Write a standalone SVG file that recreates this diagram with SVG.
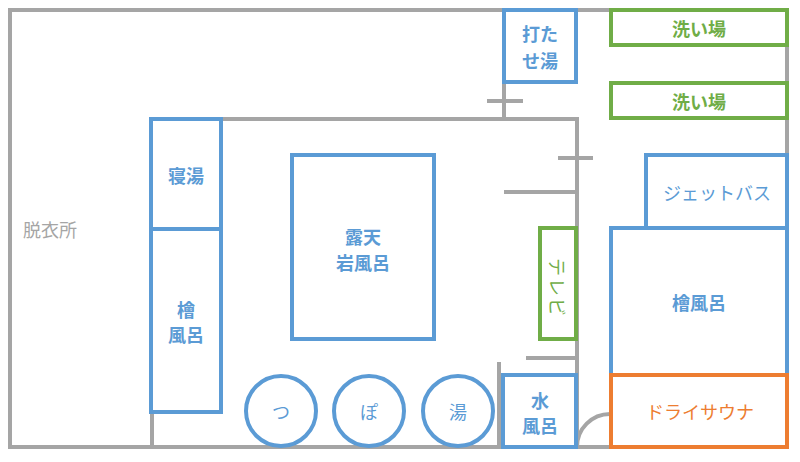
<svg xmlns="http://www.w3.org/2000/svg" width="800" height="462" viewBox="0 0 800 462">
<style>
.wall{fill:none;stroke:#a5a5a5;stroke-width:4}
.b{fill:#fff;stroke:#5b9bd5;stroke-width:4}
.g{fill:#fff;stroke:#70ad47;stroke-width:4}
.o{fill:#fff;stroke:#ed7d31;stroke-width:4}
text{font-family:"Noto Sans CJK JP","Noto Sans",sans-serif;font-size:18px;text-anchor:middle;dominant-baseline:central;font-weight:bold}
.tb{fill:#5b9bd5}
.tg{fill:#70ad47}
.to{fill:#ed7d31}
.tx{fill:#a5a5a5;font-weight:normal}
.n{font-weight:normal}
</style>
<rect width="800" height="462" fill="#fff"/>
<g id="walls">
<path class="wall" d="M612 10 H10 V447 H612 M787 10 V447 M152 412 V447 M152 119 H577 V447 M504 82 V119 M487 101 H523 M558 158 H593 M504 192 H577 M526 358 H577 M499 362 V447 M577 447 A33 33 0 0 1 610 414"/>
</g>
<g id="datsuijo"><text class="tx" x="50" y="229">脱衣所</text></g>
<g id="utaseyu"><rect class="b" x="504" y="10" width="72" height="72"/><text class="tb" x="540" y="33">打た</text><text class="tb" x="540" y="60">せ湯</text></g>
<g id="araiba1"><rect class="g" x="611" y="10" width="176" height="35"/><text class="tg" x="699" y="28">洗い場</text></g>
<g id="araiba2"><rect class="g" x="611" y="83" width="176" height="35"/><text class="tg" x="699" y="101">洗い場</text></g>
<g id="jetbath"><rect class="b" x="646" y="155" width="141" height="73"/><text class="tb n" x="717" y="192">ジェットバス</text></g>
<g id="hinoki-right"><rect class="b" x="611" y="228" width="176" height="147"/><text class="tb" x="699" y="302">檜風呂</text></g>
<g id="drysauna"><rect class="o" x="611" y="375" width="176" height="72"/><text class="to n" x="700" y="411">ドライサウナ</text></g>
<g id="tv"><rect class="g" x="540" y="228" width="36" height="111"/><text class="tg n" transform="translate(558 288) rotate(90)" x="0" y="0" letter-spacing="2">テレビ</text></g>
<g id="mizuburo"><rect class="b" x="503" y="375" width="73" height="72"/><text class="tb" x="540" y="400">水</text><text class="tb" x="540" y="425">風呂</text></g>
<g id="rotenburo"><rect class="b" x="292" y="155" width="142" height="184"/><text class="tb" x="363" y="236">露天</text><text class="tb" x="363" y="262">岩風呂</text></g>
<g id="neyu"><rect class="b" x="151" y="119" width="70" height="110"/><text class="tb" x="186" y="175">寝湯</text></g>
<g id="hinoki-left"><rect class="b" x="151" y="229" width="70" height="183"/><text class="tb" x="186" y="309">檜</text><text class="tb" x="186" y="334">風呂</text></g>
<g id="tsubo1"><circle class="b" cx="281" cy="411" r="35"/><text class="tb n" x="281" y="411">つ</text></g>
<g id="tsubo2"><circle class="b" cx="369" cy="411" r="35"/><text class="tb n" x="369" y="411">ぽ</text></g>
<g id="tsubo3"><circle class="b" cx="458" cy="411" r="35"/><text class="tb n" x="458" y="411">湯</text></g>
</svg>
